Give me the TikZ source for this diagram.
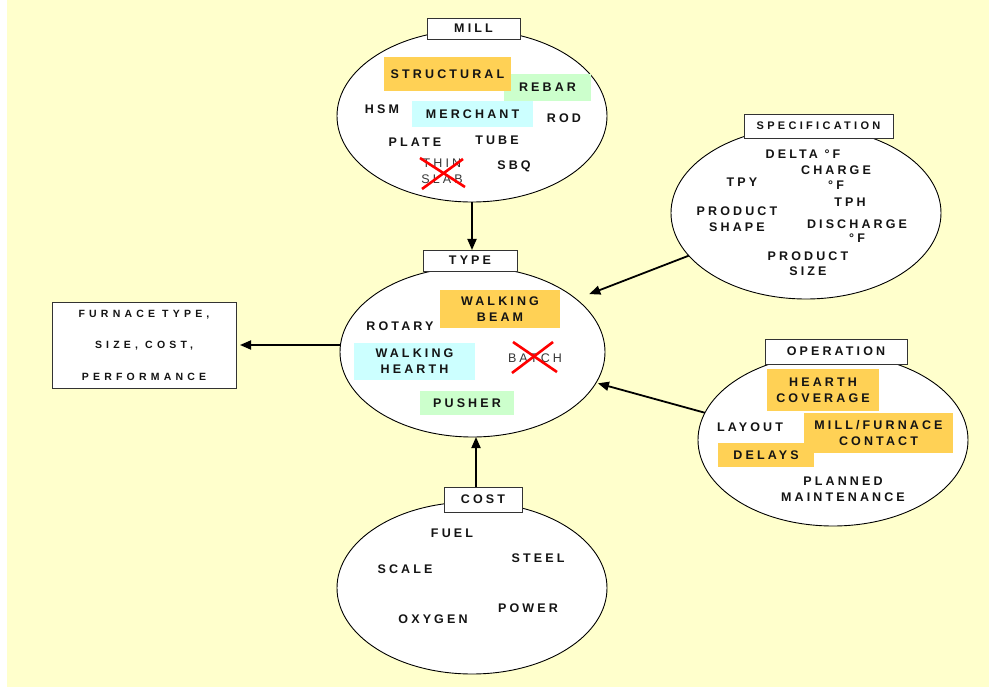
\documentclass[tikz,border=0pt]{standalone}
\usepackage{fontspec}
\setmainfont{Liberation Sans}
\newfontfamily\wfont{Liberation Sans}[LetterSpace=25]
\newfontfamily\ffont{Liberation Sans}[LetterSpace=40]
\newfontfamily\sfont{Liberation Sans}[LetterSpace=30]
\usetikzlibrary{shapes.geometric,arrows.meta}
\definecolor{bg}{HTML}{FFFFCC}
\definecolor{orng}{HTML}{FFD155}
\definecolor{grn}{HTML}{CCFFCC}
\definecolor{cyn}{HTML}{CCFFFF}
\definecolor{ink}{HTML}{141414}
\begin{document}
\begin{tikzpicture}[x=1pt,y=-1pt,
  every node/.style={inner sep=0pt, outer sep=0pt},
  wd/.style={font=\wfont\bfseries\fontsize{12.5}{16}\selectfont, text=ink, align=center},
  lt/.style={font=\wfont\fontsize{12.5}{16}\selectfont, text=black!78, align=center},
  oval/.style={ellipse, draw=black, line width=0.9pt, fill=white, minimum width=270pt, minimum height=172pt},
  lbl/.style={draw=black!80, line width=0.9pt, fill=white, wd},
  conn/.style={line width=1.8pt, -{Triangle[length=11pt,width=9pt]}},
  xmark/.style={red, line width=2.6pt}
]
\useasboundingbox (0,0) rectangle (989,687);
\fill[white] (0,0) rectangle (989,687);
\fill[bg] (7,0) rectangle (989,687);

% ellipses
\node[oval] (mill) at (472,116) {};
\node[oval] (spec) at (806,213) {};
\node[oval, minimum width=265pt, minimum height=170pt] (type) at (472.5,352) {};
\node[oval] (op) at (833,440) {};
\node[oval] (cost) at (472,588) {};

% label boxes
\node[lbl, minimum width=93pt, minimum height=21pt] (milllbl) at (473.5,28.5) {MILL};
\node[lbl, font=\sfont\bfseries\fontsize{11}{13}\selectfont, minimum width=149pt, minimum height=24pt] (speclbl) at (818.5,126) {SPECIFICATION};
\node[lbl, minimum width=94pt, minimum height=21pt] (typelbl) at (470,260.5) {TYPE};
\node[lbl, minimum width=142pt, minimum height=25pt] (oplbl) at (836,351.5) {OPERATION};
\node[lbl, minimum width=78pt, minimum height=25pt] (costlbl) at (483,499.5) {COST};
\node[draw=black!80, line width=0.9pt, fill=white, minimum width=184pt, minimum height=86pt,
      font=\ffont\bfseries\fontsize{10.5}{31.5}\selectfont, text=ink, align=center] (furn) at (144,345)
      {FURNACE TYPE,\\SIZE, COST,\\PERFORMANCE};

% MILL contents
\node[wd, fill=grn, minimum width=87pt, minimum height=27pt] (rebar) at (547.5,87.5) {REBAR};
\node[wd, fill=orng, minimum width=127pt, minimum height=34pt] (structural) at (447.5,74) {STRUCTURAL};
\node[wd, fill=cyn, minimum width=121pt, minimum height=26pt] (merchant) at (472.5,114) {MERCHANT};
\node[wd] (hsm) at (382,109) {HSM};
\node[wd] (rod) at (564,118.5) {ROD};
\node[wd] (plate) at (415,142.5) {PLATE};
\node[wd] (tube) at (497,140.5) {TUBE};
\node[wd] (sbq) at (514,166) {SBQ};
\node[lt] (thinslab) at (442,171.5) {THIN\\SLAB};
\draw[xmark] (420,158) -- (465,187);
\draw[xmark] (422,189) -- (463,159);

% SPECIFICATION contents
\node[wd] (delta) at (803,154) {DELTA °F};
\node[wd, font=\wfont\bfseries\fontsize{12.5}{15}\selectfont] (charge) at (836,177.5) {CHARGE\\°F};
\node[wd] (tpy) at (742,182.5) {TPY};
\node[wd] (tph) at (850,202) {TPH};
\node[wd] (pshape) at (737,219.5) {PRODUCT\\SHAPE};
\node[wd, font=\wfont\bfseries\fontsize{12.5}{14}\selectfont] (discharge) at (857,231) {DISCHARGE\\°F};
\node[wd, font=\wfont\bfseries\fontsize{12.5}{15}\selectfont] (psize) at (808,263.5) {PRODUCT\\SIZE};

% TYPE contents
\node[wd, fill=orng, minimum width=120pt, minimum height=38pt] (wbeam) at (500,309) {WALKING\\BEAM};
\node[wd] (rotary) at (400,326) {ROTARY};
\node[wd, fill=cyn, minimum width=121pt, minimum height=37pt] (whearth) at (414.5,361.5) {WALKING\\HEARTH};
\node[lt] (batch) at (535,358) {BATCH};
\draw[xmark] (513,342) -- (557,372);
\draw[xmark] (512,373) -- (553,342);
\node[wd, fill=grn, minimum width=94pt, minimum height=24pt] (pusher) at (467,403) {PUSHER};

% OPERATION contents
\node[wd, fill=orng, minimum width=112pt, minimum height=42pt] (hcov) at (823,390) {HEARTH\\COVERAGE};
\node[wd, fill=orng, minimum width=149pt, minimum height=40pt] (mfc) at (878.5,433) {MILL/FURNACE\\CONTACT};
\node[wd, fill=orng, minimum width=96pt, minimum height=24pt] (delays) at (766,455) {DELAYS};
\node[wd] (layout) at (750,427) {LAYOUT};
\node[wd] (planned) at (843,489.5) {PLANNED\\MAINTENANCE};

% COST contents
\node[wd] (fuel) at (452,533) {FUEL};
\node[wd] (steel) at (538,558) {STEEL};
\node[wd] (scale) at (405,569) {SCALE};
\node[wd] (power) at (528,608) {POWER};
\node[wd] (oxygen) at (433,619) {OXYGEN};

% connectors
\draw[conn] (mill.south) -- (mill.south |- typelbl.north);
\draw[conn] ([xshift=-7pt]costlbl.north) -- ([xshift=-7pt]costlbl.north |- type.south);
\draw[conn, shorten >=4pt] (type.west |- furn.east) -- (furn.east);
\draw[conn, shorten >=14pt] (spec.200) -- (type.27);
\draw[conn, shorten >=2pt] (op.168) -- (type.-14);
\end{tikzpicture}
\end{document}
